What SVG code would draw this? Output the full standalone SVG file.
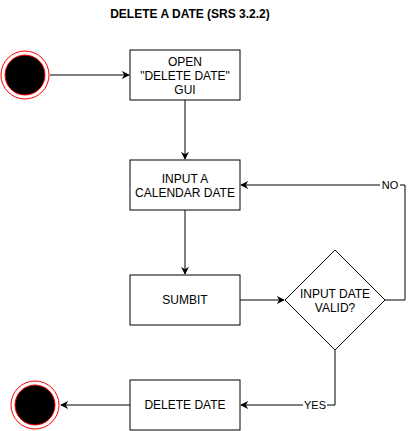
<svg xmlns="http://www.w3.org/2000/svg" width="414" height="431" viewBox="0 0 414 431">
<style>
.box{fill:#fff;stroke:#000;stroke-width:1}
.t{font-family:"Liberation Sans",Arial,sans-serif;font-size:12px;fill:#000;text-anchor:middle}
.lbl{font-family:"Liberation Sans",Arial,sans-serif;font-size:11px;fill:#000;text-anchor:middle}
.edge{fill:none;stroke:#000;stroke-width:1}
</style>
<defs>
<marker id="arr" viewBox="0 0 10 10" refX="9" refY="5" markerWidth="8" markerHeight="8" markerUnits="userSpaceOnUse" orient="auto">
<path d="M0,0 L10,5 L0,10 L3,5 Z" fill="#000"/>
</marker>
</defs>
<rect width="414" height="431" fill="#fff"/>
<text x="190" y="18" class="t" style="font-weight:bold;font-size:12px">DELETE A DATE (SRS 3.2.2)</text>

<g id="edges">
<path class="edge" d="M50,75 L129,75" marker-end="url(#arr)"/>
<path class="edge" d="M185,100 L185,159" marker-end="url(#arr)"/>
<path class="edge" d="M185,210 L185,274" marker-end="url(#arr)"/>
<path class="edge" d="M240,300 L284,300" marker-end="url(#arr)"/>
<path class="edge" d="M385,300 L405,300 L405,185 L241,185" marker-end="url(#arr)"/>
<path class="edge" d="M335,350 L335,405 L241,405" marker-end="url(#arr)"/>
<path class="edge" d="M130,405 L61,405" marker-end="url(#arr)"/>
<rect x="380" y="179" width="20" height="12" fill="#fff"/>
<text x="390" y="189" class="lbl">NO</text>
<rect x="303" y="399" width="24" height="12" fill="#fff"/>
<text x="315" y="409" class="lbl">YES</text>
</g>

<g id="start">
<circle cx="25" cy="75" r="24" fill="#fff" stroke="#f00" stroke-width="1"/>
<circle cx="25" cy="75" r="20" fill="#000" stroke="#f00" stroke-width="1"/>
</g>
<g id="open">
<rect class="box" x="130" y="50" width="110" height="50"/>
<text class="t" x="185" y="66">OPEN</text>
<text class="t" x="185" y="80">"DELETE DATE"</text>
<text class="t" x="185" y="94">GUI</text>
</g>
<g id="input">
<rect class="box" x="130" y="160" width="110" height="50"/>
<text class="t" x="185" y="183">INPUT A</text>
<text class="t" x="185" y="197">CALENDAR DATE</text>
</g>
<g id="submit">
<rect class="box" x="130" y="275" width="110" height="50"/>
<text class="t" x="185" y="304">SUMBIT</text>
</g>
<g id="valid">
<path class="box" d="M335,250 L385,300 L335,350 L285,300 Z"/>
<text class="t" x="335" y="298">INPUT DATE</text>
<text class="t" x="335" y="312">VALID?</text>
</g>
<g id="delete">
<rect class="box" x="130" y="380" width="110" height="50"/>
<text class="t" x="185" y="409">DELETE DATE</text>
</g>
<g id="end">
<circle cx="35" cy="405" r="24" fill="#fff" stroke="#f00" stroke-width="1"/>
<circle cx="35" cy="405" r="20" fill="#000" stroke="#f00" stroke-width="1"/>
</g>
</svg>
